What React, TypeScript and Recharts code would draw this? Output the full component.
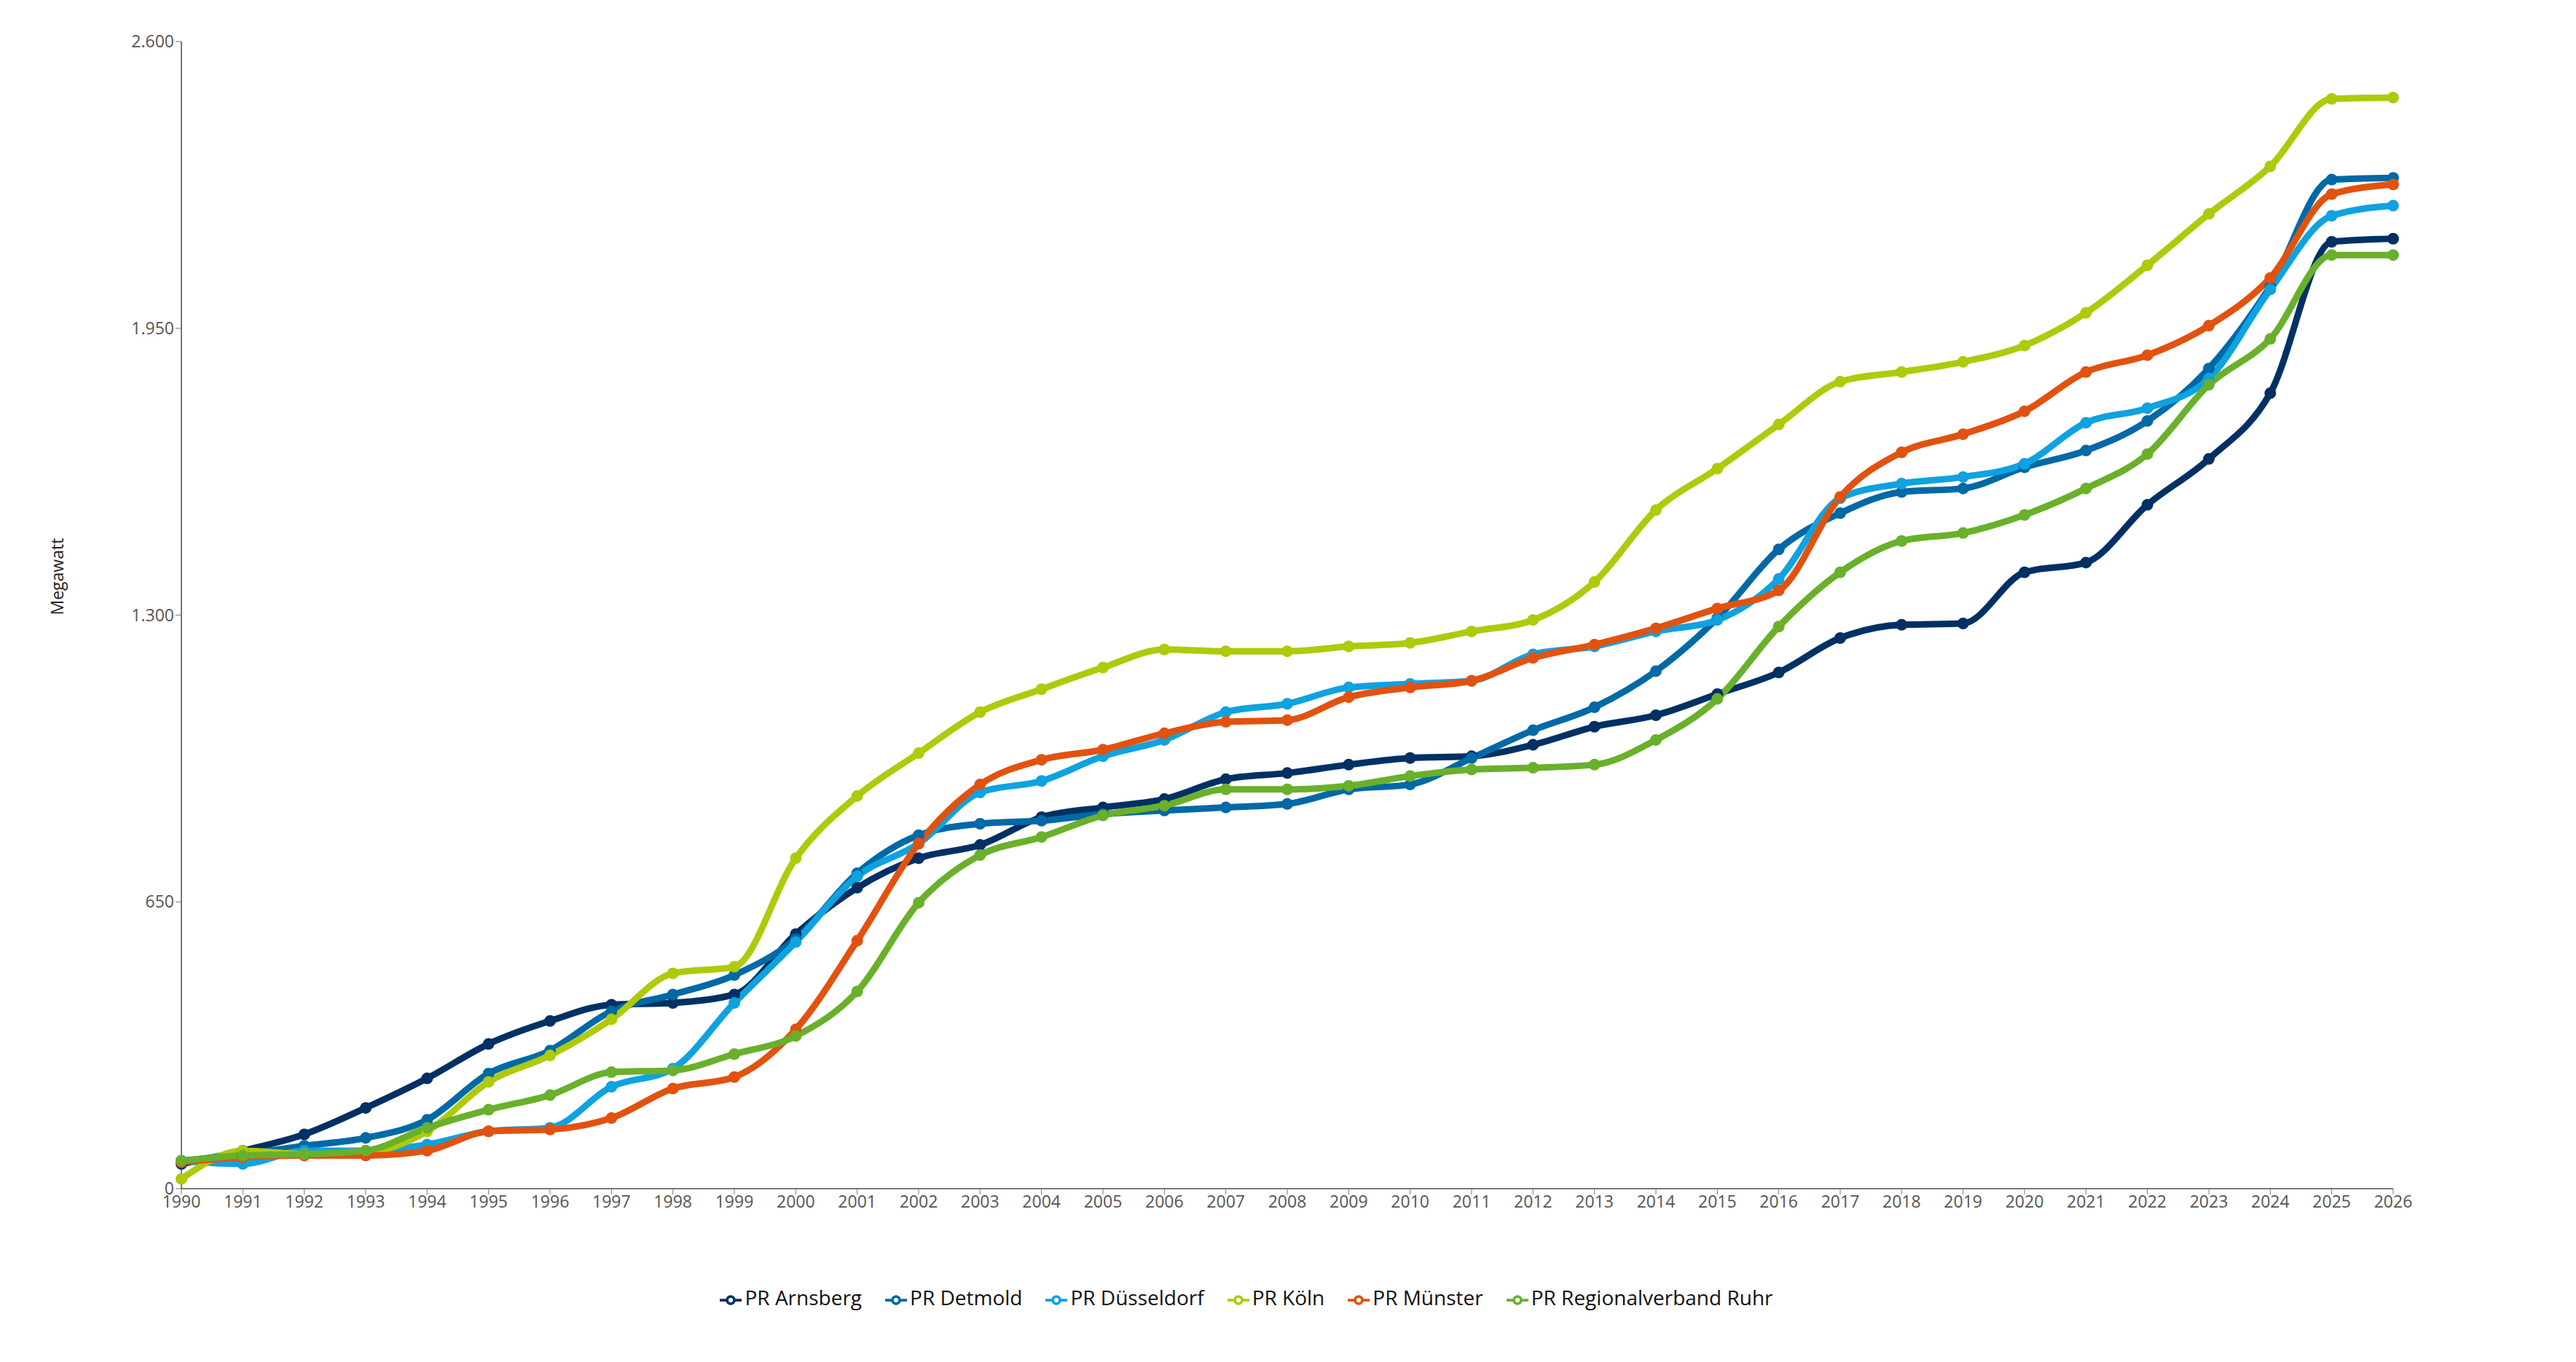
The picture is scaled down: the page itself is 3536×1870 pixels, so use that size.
import { LineChart, Line, XAxis, YAxis, Legend } from "recharts";

// ─── Data ─────────────────────────────────────────────────────────────────────

const years = [
  1990, 1991, 1992, 1993, 1994, 1995, 1996, 1997, 1998, 1999, 2000, 2001, 2002,
  2003, 2004, 2005, 2006, 2007, 2008, 2009, 2010, 2011, 2012, 2013, 2014, 2015,
  2016, 2017, 2018, 2019, 2020, 2021, 2022, 2023, 2024, 2025, 2026,
];

const arnsberg = [
  56, 86, 123, 183, 250, 328, 380, 417, 421, 440, 577, 682, 749, 779, 842, 864,
  883, 928, 942, 961, 976, 980, 1006, 1047, 1073, 1121, 1170, 1248, 1278, 1281,
  1397, 1419, 1550, 1654, 1803, 2146, 2153,
];
const detmold = [
  63, 78, 97, 115, 156, 261, 313, 402, 440, 484, 566, 715, 801, 827, 834, 849,
  857, 864, 872, 905, 916, 976, 1039, 1091, 1173, 1293, 1449, 1531, 1579, 1587,
  1635, 1673, 1740, 1859, 2045, 2287, 2291,
];
const duesseldorf = [
  63, 56, 86, 86, 100, 130, 138, 231, 272, 421, 559, 708, 782, 898, 924, 980,
  1017, 1080, 1099, 1136, 1144, 1151, 1211, 1229, 1263, 1289, 1382, 1565, 1598,
  1613, 1643, 1736, 1769, 1836, 2038, 2205, 2228,
];
const koeln = [
  22, 86, 78, 82, 130, 242, 302, 384, 488, 503, 749, 890, 987, 1080, 1132, 1181,
  1222, 1218, 1218, 1229, 1237, 1263, 1289, 1375, 1538, 1632, 1732, 1829, 1851,
  1874, 1911, 1985, 2093, 2209, 2317, 2470, 2473,
];
const muenster = [
  60, 71, 75, 75, 86, 130, 134, 160, 227, 253, 361, 562, 782, 916, 972, 995,
  1032, 1058, 1062, 1114, 1136, 1151, 1203, 1233, 1270, 1315, 1356, 1568, 1669,
  1710, 1762, 1851, 1889, 1956, 2064, 2254, 2276,
];
const ruhr = [
  63, 75, 78, 86, 138, 179, 212, 264, 268, 305, 346, 447, 648, 756, 797, 846,
  868, 905, 905, 913, 935, 950, 954, 961, 1017, 1110, 1274, 1397, 1468, 1486,
  1527, 1587, 1665, 1822, 1926, 2116, 2116,
];

const yTicks = [0, 650, 1300, 1950, 2600];

const series = [
  { key: "arnsberg", name: "PR Arnsberg", color: "#003064", values: arnsberg },
  { key: "detmold", name: "PR Detmold", color: "#0069a6", values: detmold },
  { key: "duesseldorf", name: "PR Düsseldorf", color: "#0fa2e0", values: duesseldorf },
  { key: "koeln", name: "PR Köln", color: "#afca0b", values: koeln },
  { key: "muenster", name: "PR Münster", color: "#e2520f", values: muenster },
  { key: "ruhr", name: "PR Regionalverband Ruhr", color: "#69b02b", values: ruhr },
];

const rows = years.map((year, i) => {
  const row: Record<string, number> = { year };
  series.forEach((s) => (row[s.key] = s.values[i]));
  return row;
});

const fmt = (v: number) => v.toLocaleString("de-DE");

// ─── Component ────────────────────────────────────────────────────────────────

export default function App() {
  const font = "'Open Sans', 'Noto Sans', sans-serif";
  return (
    <div style={{ fontFamily: font }}>
      <LineChart
        width={3520}
        height={1854}
        data={rows}
        margin={{ top: 49, right: 243, bottom: 132, left: 161 }}
      >
        <XAxis
          dataKey="year"
          type="number"
          domain={[1990, 2026]}
          ticks={years}
          interval={0}
          height={60}
          tick={{ fill: "#555", fontSize: 23 }}
          tickLine={{ stroke: "#777" }}
          axisLine={{ stroke: "#777", strokeWidth: 2 }}
          tickSize={8}
        />
        <YAxis
          domain={[0, 2600]}
          ticks={yTicks}
          tickFormatter={fmt}
          width={80}
          tick={{ fill: "#555", fontSize: 23 }}
          tickLine={{ stroke: "#777" }}
          axisLine={{ stroke: "#777", strokeWidth: 2 }}
          tickSize={8}
          label={{
            value: "Megawatt",
            angle: -90,
            position: "insideLeft",
            offset: -90,
            style: { fill: "#222", fontSize: 23 },
          }}
        />
        <YAxis
          yAxisId="right"
          orientation="right"
          domain={[0, 2600]}
          ticks={yTicks}
          width={0}
          tick={false}
          tickLine={false}
          axisLine={{ stroke: "#888", strokeWidth: 2 }}
        />
        <Legend
          verticalAlign="bottom"
          align="center"
          iconSize={30}
          wrapperStyle={{ bottom: 62, fontSize: 28 }}
          formatter={(value: string) => (
            <span style={{ color: "#111", marginRight: 22 }}>{value}</span>
          )}
        />
        {series.map((s) => (
          <Line
            key={s.key}
            type="monotone"
            dataKey={s.key}
            name={s.name}
            stroke={s.color}
            strokeWidth={9}
            dot={{ r: 7, fill: s.color, stroke: s.color, strokeWidth: 2 }}
            activeDot={false}
            isAnimationActive={false}
          />
        ))}
      </LineChart>
    </div>
  );
}
